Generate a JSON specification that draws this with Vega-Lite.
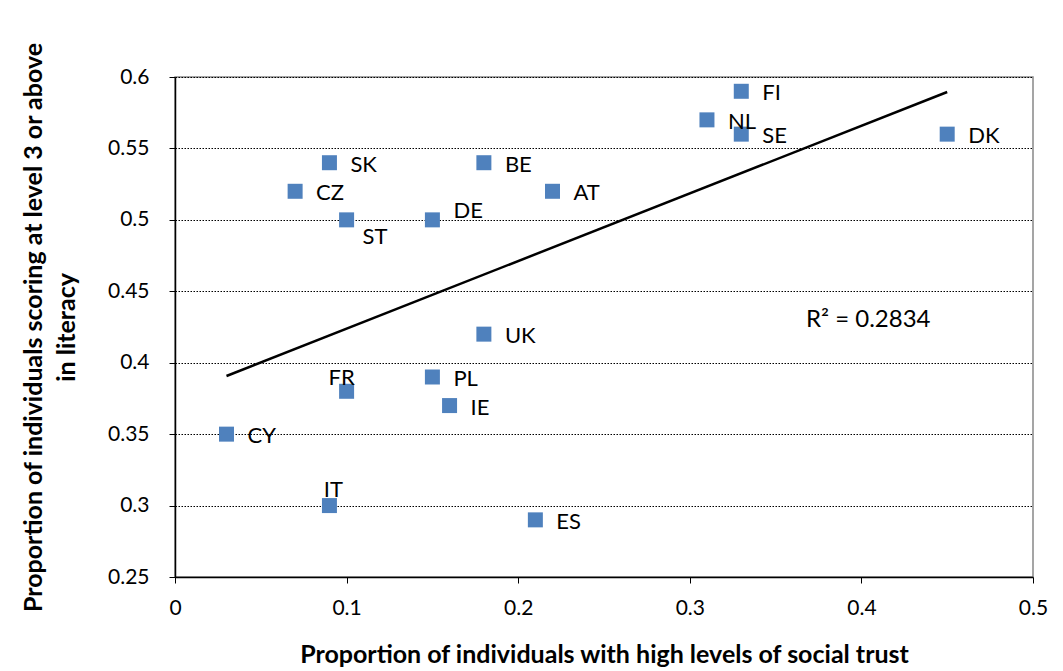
{
  "$schema": "https://vega.github.io/schema/vega-lite/v6.json",
  "width": 858,
  "height": 500,
  "autosize": "none",
  "padding": {"left": 175, "top": 77, "right": 30, "bottom": 94},
  "background": "white",
  "config": {
    "font": "Lato",
    "view": {"stroke": "#888888", "strokeWidth": 1.5},
    "axis": {
      "labelFont": "Lato", "labelFontSize": 21, "labelColor": "black", "labelFlush": false,
      "titleFont": "Lato", "titleFontSize": 25, "titleFontWeight": "bold", "titleColor": "black",
      "domainColor": "black", "domainWidth": 1.5, "tickColor": "black", "tickWidth": 1, "tickSize": 6
    }
  },
  "datasets": {
    "pts": [
      {"country": "FI", "trust": 0.33, "literacy": 0.59},
      {"country": "NL", "trust": 0.31, "literacy": 0.57},
      {"country": "SE", "trust": 0.33, "literacy": 0.56},
      {"country": "DK", "trust": 0.45, "literacy": 0.56},
      {"country": "SK", "trust": 0.09, "literacy": 0.54},
      {"country": "BE", "trust": 0.18, "literacy": 0.54},
      {"country": "CZ", "trust": 0.07, "literacy": 0.52},
      {"country": "AT", "trust": 0.22, "literacy": 0.52},
      {"country": "ST", "trust": 0.10, "literacy": 0.50},
      {"country": "DE", "trust": 0.15, "literacy": 0.50},
      {"country": "UK", "trust": 0.18, "literacy": 0.42},
      {"country": "PL", "trust": 0.15, "literacy": 0.39},
      {"country": "FR", "trust": 0.10, "literacy": 0.38},
      {"country": "IE", "trust": 0.16, "literacy": 0.37},
      {"country": "CY", "trust": 0.03, "literacy": 0.35},
      {"country": "IT", "trust": 0.09, "literacy": 0.30},
      {"country": "ES", "trust": 0.21, "literacy": 0.29}
    ],
    "trend": [
      {"trust": 0.03, "literacy": 0.3907},
      {"trust": 0.45, "literacy": 0.5895}
    ],
    "note": [
      {"trust": 0.404, "literacy": 0.43, "text": "R² = 0.2834"}
    ]
  },
  "layer": [
    {
      "data": {"name": "pts"},
      "mark": {"type": "point", "shape": "square", "filled": true, "size": 225, "color": "#4F81BD", "opacity": 1},
      "encoding": {
        "x": {"field": "trust", "type": "quantitative",
          "scale": {"domain": [0, 0.5], "nice": false, "zero": false},
          "axis": {"values": [0, 0.1, 0.2, 0.3, 0.4, 0.5], "grid": false, "labelPadding": 14, "titlePadding": 24, "format": "~g",
            "labelFlush": false, "titleFontSize": 25, "titleFontWeight": "bold",
            "title": "Proportion of individuals with high levels of social trust"}},
        "y": {"field": "literacy", "type": "quantitative",
          "scale": {"domain": [0.25, 0.6], "nice": false, "zero": false},
          "axis": {"values": [0.25, 0.3, 0.35, 0.4, 0.45, 0.5, 0.55, 0.6], "grid": true, "gridColor": "black", "gridDash": [1.5, 1.5], "gridWidth": 1,
            "labelPadding": 20, "titlePadding": 28, "format": "~g", "labelFlush": false,
            "titleFontSize": 25, "titleFontWeight": "bold", "titleLineHeight": 33,
            "title": ["Proportion of individuals scoring at level 3 or above", "in literacy"]}}
      }
    },
    {
      "data": {"name": "trend"},
      "mark": {"type": "line", "color": "black", "strokeWidth": 2.5},
      "encoding": {
        "x": {"field": "trust", "type": "quantitative"},
        "y": {"field": "literacy", "type": "quantitative"}
      }
    },
    {
      "data": {"name": "pts"},
      "transform": [{"filter": "indexof(['DE','ST','FR','IT'], datum.country) < 0"}],
      "mark": {"type": "text", "align": "left", "baseline": "middle", "dx": 21, "dy": 2, "fontSize": 22, "color": "black"},
      "encoding": {
        "x": {"field": "trust", "type": "quantitative"},
        "y": {"field": "literacy", "type": "quantitative"},
        "text": {"field": "country"}
      }
    },
    {
      "data": {"name": "pts"},
      "transform": [{"filter": "datum.country == 'DE'"}],
      "mark": {"type": "text", "align": "left", "baseline": "middle", "dx": 21, "dy": -9, "fontSize": 22, "color": "black"},
      "encoding": {
        "x": {"field": "trust", "type": "quantitative"},
        "y": {"field": "literacy", "type": "quantitative"},
        "text": {"field": "country"}
      }
    },
    {
      "data": {"name": "pts"},
      "transform": [{"filter": "datum.country == 'ST'"}],
      "mark": {"type": "text", "align": "left", "baseline": "middle", "dx": 16, "dy": 17, "fontSize": 22, "color": "black"},
      "encoding": {
        "x": {"field": "trust", "type": "quantitative"},
        "y": {"field": "literacy", "type": "quantitative"},
        "text": {"field": "country"}
      }
    },
    {
      "data": {"name": "pts"},
      "transform": [{"filter": "datum.country == 'FR'"}],
      "mark": {"type": "text", "align": "center", "baseline": "middle", "dx": -5, "dy": -13, "fontSize": 22, "color": "black"},
      "encoding": {
        "x": {"field": "trust", "type": "quantitative"},
        "y": {"field": "literacy", "type": "quantitative"},
        "text": {"field": "country"}
      }
    },
    {
      "data": {"name": "pts"},
      "transform": [{"filter": "datum.country == 'IT'"}],
      "mark": {"type": "text", "align": "center", "baseline": "middle", "dx": 4, "dy": -16, "fontSize": 22, "color": "black"},
      "encoding": {
        "x": {"field": "trust", "type": "quantitative"},
        "y": {"field": "literacy", "type": "quantitative"},
        "text": {"field": "country"}
      }
    },
    {
      "data": {"name": "note"},
      "mark": {"type": "text", "align": "center", "baseline": "middle", "fontSize": 24, "color": "black"},
      "encoding": {
        "x": {"field": "trust", "type": "quantitative"},
        "y": {"field": "literacy", "type": "quantitative"},
        "text": {"field": "text"}
      }
    }
  ]
}
